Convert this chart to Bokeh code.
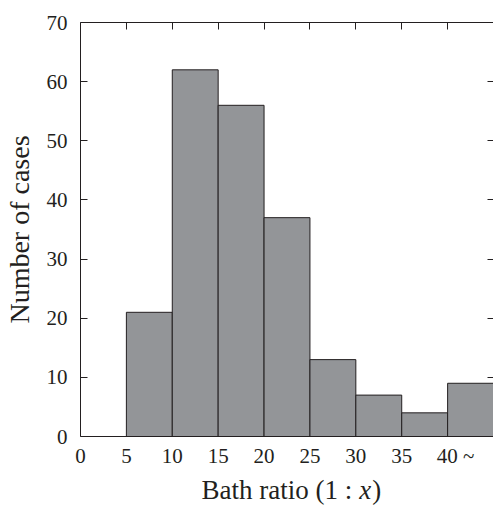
import math
from bokeh.plotting import figure
from bokeh.layouts import column
from bokeh.models import Range1d, LinearAxis, FixedTicker
from bokeh.core.properties import value
from bokeh.embed import file_html
from bokeh.resources import INLINE

# ---- data ----
bin_left = [5, 10, 15, 20, 25, 30, 35, 40]
bin_right = [10, 15, 20, 25, 30, 35, 40, 45]
counts = [21, 62, 56, 37, 13, 7, 4, 9]
x_ticks = [0, 5, 10, 15, 20, 25, 30, 35, 40]
x_tick_labels = {40: "\u00a0\u00a0\u00a040\u00a0~"}
y_ticks = [0, 10, 20, 30, 40, 50, 60, 70]
x_title = "Bath ratio (1 :"
x_title_var = "x"
x_title_end = ")"
y_title = "Number of cases"

FONT = "Liberation Serif"
INK = "#231f20"

xr = Range1d(0, 45)
p = figure(width=493, height=470, output_backend="svg", toolbar_location=None,
           title=None, x_range=xr, y_range=Range1d(0, 70),
           min_border_left=78, min_border_right=0, min_border_top=22,
           min_border_bottom=33)
p.outline_line_color = None
p.xgrid.visible = False
p.ygrid.visible = False

p.quad(left=bin_left, right=bin_right, top=counts, bottom=0,
       fill_color="#939598", line_color=INK, line_width=1)

def style(ax, ticks, tick_in, labels=True):
    ax.ticker = FixedTicker(ticks=ticks)
    ax.major_tick_in = tick_in
    ax.major_tick_out = 0
    ax.minor_tick_in = 0
    ax.minor_tick_out = 0
    ax.major_tick_line_color = INK
    ax.axis_line_color = INK
    ax.axis_line_width = 1
    if labels:
        ax.major_label_text_font = FONT
        ax.major_label_text_font_size = "21px"
        ax.major_label_text_color = INK
    else:
        ax.major_label_text_color = None
        ax.major_label_standoff = 0

xa = p.xaxis[0]
style(xa, x_ticks, 0)
xa.major_label_standoff = 7
xa.major_label_overrides = x_tick_labels
ya = p.yaxis[0]
style(ya, y_ticks, 7)
ya.major_label_standoff = 13
ya.axis_label = y_title
ya.axis_label_text_font = FONT
ya.axis_label_text_font_style = "normal"
ya.axis_label_text_font_size = "28px"
ya.axis_label_text_color = INK
ya.axis_label_standoff = 9

top = LinearAxis()
style(top, [5, 10, 15, 20, 25, 30, 35, 40], 7, labels=False)
p.add_layout(top, "above")

right = LinearAxis()
style(right, [10, 20, 30, 40, 50, 60, 70], 6, labels=False)
right.axis_line_alpha = 0
p.add_layout(right, "right")

# bottom strip holding the x-axis title (mixed upright / italic text)
p2 = figure(width=493, height=35, output_backend="svg", toolbar_location=None,
            title=None, x_range=xr, y_range=Range1d(0, 35),
            min_border_left=78, min_border_right=0, min_border_top=0,
            min_border_bottom=0)
p2.axis.visible = False
p2.grid.visible = False
p2.outline_line_color = None
tx = 30.36
ty = 16
p2.text(x=[tx], y=[ty], text=[x_title], x_offset=-7, text_align="right",
        text_baseline="alphabetic", text_font=value(FONT), text_font_size="27px",
        text_color=INK)
p2.text(x=[tx], y=[ty], text=[x_title_var], text_align="left",
        text_baseline="alphabetic", text_font=value(FONT), text_font_style="italic",
        text_font_size="27px", text_color=INK)
p2.text(x=[tx], y=[ty], text=[x_title_end], x_offset=13, text_align="left",
        text_baseline="alphabetic", text_font=value(FONT), text_font_size="27px",
        text_color=INK)

layout = column(p, p2, spacing=0)
open("out.html", "w").write(file_html(layout, INLINE))
